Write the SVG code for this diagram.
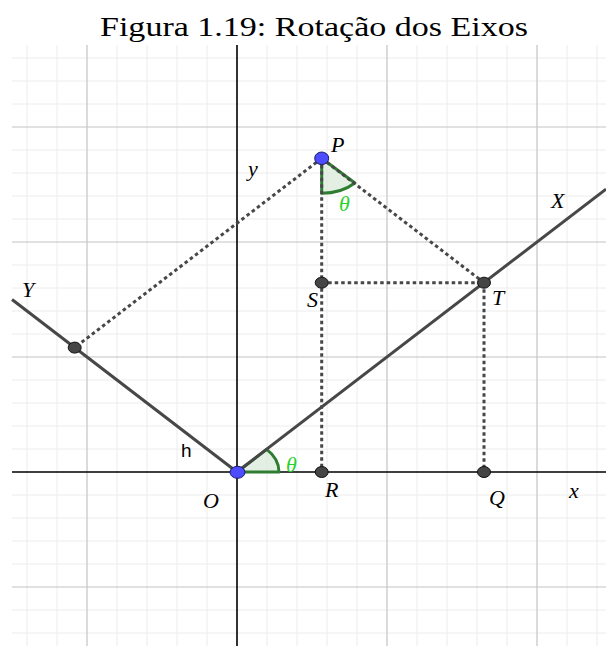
<svg xmlns="http://www.w3.org/2000/svg" width="606" height="646" viewBox="0 0 606 646">
<style>
.minor{stroke:#ececec;stroke-width:1;fill:none}
.major{stroke:#c4c4c4;stroke-width:1.2;fill:none}
.axis{stroke:#000;stroke-width:1.6;fill:none}
.ray{stroke:#474747;stroke-width:3;fill:none}
.dot{stroke:#474747;stroke-width:3;stroke-dasharray:3.5 3;fill:none}
.sector{fill:#dcebdc;fill-opacity:0.8;stroke:#2e7d32;stroke-width:3;stroke-linejoin:round}
.pt{fill:#454545;stroke:#111;stroke-width:1}
.bpt{fill:#4d4dff;stroke:#1a1a66;stroke-width:1}
.lbl{font-family:"Liberation Serif","DejaVu Serif",serif;font-style:italic;font-size:22px;fill:#000}
.th{font-family:"Liberation Serif","DejaVu Serif",serif;font-style:italic;font-size:22px;fill:#2ad12a}
.title{font-family:"Liberation Serif","DejaVu Serif",serif;font-size:28px;fill:#000}
</style>
<rect x="0" y="0" width="606" height="646" fill="#fff"/>
<text class="title" x="314" y="36" text-anchor="middle" textLength="428" lengthAdjust="spacingAndGlyphs">Figura 1.19: Rotação dos Eixos</text>
<g id="grid">
<path class="minor" d="M27 45V646M57 45V646M117 45V646M147 45V646M177 45V646M207 45V646M267 45V646M297 45V646M327 45V646M357 45V646M417 45V646M447 45V646M477 45V646M507 45V646M567 45V646M597 45V646"/>
<path class="minor" d="M12 58H606M12 81H606M12 104H606M12 150H606M12 173H606M12 196H606M12 219H606M12 265H606M12 288H606M12 311H606M12 334H606M12 380H606M12 403H606M12 426H606M12 449H606M12 495H606M12 518H606M12 541H606M12 564H606M12 610H606M12 633H606"/>
<path class="major" d="M87 45V646M387 45V646M537 45V646M12 127H606M12 242H606M12 357H606M12 587H606"/>
<path class="axis" d="M12 472H606M237 45V646"/>
</g>
<g id="angles">
<path class="sector" d="M237 472L279 472A42 32 0 0 0 266.7 449.4Z"/>
<path class="sector" d="M321.7 158.3L321.7 193.3A47 35 0 0 0 354.9 183Z"/>
</g>
<g id="connectors">
<path class="ray" d="M237 472L606 189.1"/>
<path class="ray" d="M237 472L12 299.5"/>
<path class="dot" d="M321.7 158.3L74.7 347.6"/>
<path class="dot" d="M321.7 158.3L484 282.7"/>
<path class="dot" d="M321.7 158.3L321.7 472"/>
<path class="dot" d="M321.7 282.7L484 282.7"/>
<path class="dot" d="M484 282.7L484 472"/>
</g>
<g id="node-Yp"><ellipse class="pt" cx="74.7" cy="347.6" rx="6.5" ry="5.5"/></g>
<g id="node-S"><ellipse class="pt" cx="321.7" cy="282.7" rx="6.5" ry="5.5"/><text class="lbl" x="307" y="307">S</text></g>
<g id="node-T"><ellipse class="pt" cx="484" cy="282.7" rx="6.5" ry="5.5"/><text class="lbl" x="492" y="305">T</text></g>
<g id="node-R"><ellipse class="pt" cx="321.7" cy="472" rx="6.5" ry="5.5"/><text class="lbl" x="325" y="497">R</text></g>
<g id="node-Q"><ellipse class="pt" cx="484" cy="472" rx="6.5" ry="5.5"/><text class="lbl" x="489" y="505">Q</text></g>
<g id="node-O"><ellipse class="bpt" cx="237.5" cy="472.3" rx="7.5" ry="6"/><text class="lbl" x="203" y="508">O</text></g>
<g id="node-P"><ellipse class="bpt" cx="321.7" cy="158.3" rx="7" ry="6.3"/><text class="lbl" x="331" y="152">P</text></g>
<g id="labels">
<text class="lbl" x="248" y="176">y</text>
<text class="lbl" x="569" y="498">x</text>
<text class="lbl" x="551" y="208">X</text>
<text class="lbl" x="22" y="297">Y</text>
<text class="th" x="339" y="211">θ</text>
<text class="th" x="286" y="472">θ</text>
<text x="181" y="457" font-family="'Liberation Sans','DejaVu Sans',sans-serif" font-size="19" fill="#000">h</text>
</g>
</svg>
